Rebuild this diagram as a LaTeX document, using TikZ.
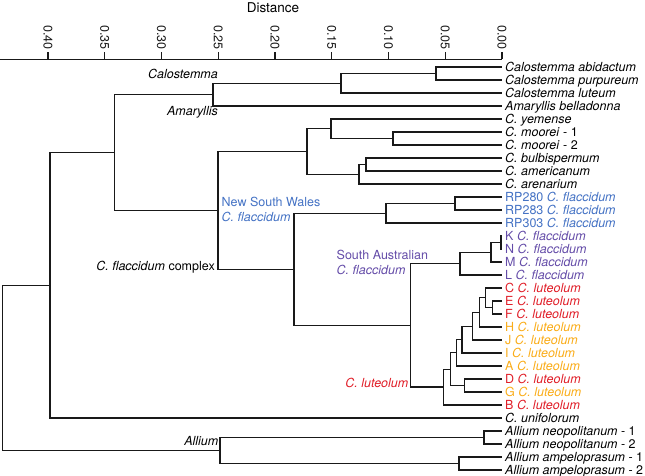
\documentclass[tikz,border=0pt]{standalone}
\usepackage{fontspec}
\setmainfont{TeX Gyre Heros}
\usetikzlibrary{calc}
\definecolor{nswblue}{RGB}{68,114,196}
\definecolor{sapurple}{RGB}{100,76,168}
\definecolor{lutred}{RGB}{224,30,40}
\definecolor{lutorange}{RGB}{250,172,24}
\begin{document}
\begin{tikzpicture}[x=1pt,y=-1pt,
  font=\fontsize{12.5}{14}\selectfont,
  branch/.style={line width=1.2pt, black!90},
  tiplab/.style={anchor=base west, inner sep=0pt},
  grouplab/.style={inner sep=0pt},
  ticklab/.style={anchor=east, rotate=-90, inner sep=2pt}]
\useasboundingbox (0,0) rectangle (645,476);
% axis
\node (dist) at (273,8) {\fontsize{13.5}{15}\selectfont Distance};
\coordinate (ax0) at (0,59.5);
\coordinate (ax1) at (502,59.5);
\draw[branch] (ax0) -- (ax1);
\foreach \k/\lab in {0/0.00,1/0.05,2/0.10,3/0.15,4/0.20,5/0.25,6/0.30,7/0.35,8/0.40}{
  \coordinate (tk\k) at ({502-\k*56.75},59.5);
  \draw[branch] (tk\k) -- ++(0,-7.5) node[ticklab] (tl\k) {\lab};
}
% tips
\foreach \i in {1,...,32}{
  \coordinate (t\i) at (502,{67+13*(\i-1)});
}
\node[tiplab] (l1) at ($(t1)+(3,4.4)$) {\textit{Calostemma abidactum}};
\node[tiplab] (l2) at ($(t2)+(3,4.4)$) {\textit{Calostemma purpureum}};
\node[tiplab] (l3) at ($(t3)+(3,4.4)$) {\textit{Calostemma luteum}};
\node[tiplab] (l4) at ($(t4)+(3,4.4)$) {\textit{Amaryllis belladonna}};
\node[tiplab] (l5) at ($(t5)+(3,4.4)$) {\textit{C. yemense}};
\node[tiplab] (l6) at ($(t6)+(3,4.4)$) {\textit{C. moorei} - 1};
\node[tiplab] (l7) at ($(t7)+(3,4.4)$) {\textit{C. moorei} - 2};
\node[tiplab] (l8) at ($(t8)+(3,4.4)$) {\textit{C. bulbispermum}};
\node[tiplab] (l9) at ($(t9)+(3,4.4)$) {\textit{C. americanum}};
\node[tiplab] (l10) at ($(t10)+(3,4.4)$) {\textit{C. arenarium}};
\node[tiplab,text=nswblue] (l11) at ($(t11)+(3,4.4)$) {RP280 \textit{C. flaccidum}};
\node[tiplab,text=nswblue] (l12) at ($(t12)+(3,4.4)$) {RP283 \textit{C. flaccidum}};
\node[tiplab,text=nswblue] (l13) at ($(t13)+(3,4.4)$) {RP303 \textit{C. flaccidum}};
\node[tiplab,text=sapurple] (l14) at ($(t14)+(3,4.4)$) {K \textit{C. flaccidum}};
\node[tiplab,text=sapurple] (l15) at ($(t15)+(3,4.4)$) {N \textit{C. flaccidum}};
\node[tiplab,text=sapurple] (l16) at ($(t16)+(3,4.4)$) {M \textit{C. flaccidum}};
\node[tiplab,text=sapurple] (l17) at ($(t17)+(3,4.4)$) {L \textit{C. flaccidum}};
\node[tiplab,text=lutred] (l18) at ($(t18)+(3,4.4)$) {C \textit{C. luteolum}};
\node[tiplab,text=lutred] (l19) at ($(t19)+(3,4.4)$) {E \textit{C. luteolum}};
\node[tiplab,text=lutred] (l20) at ($(t20)+(3,4.4)$) {F \textit{C. luteolum}};
\node[tiplab,text=lutorange] (l21) at ($(t21)+(3,4.4)$) {H \textit{C. luteolum}};
\node[tiplab,text=lutorange] (l22) at ($(t22)+(3,4.4)$) {J \textit{C. luteolum}};
\node[tiplab,text=lutorange] (l23) at ($(t23)+(3,4.4)$) {I \textit{C. luteolum}};
\node[tiplab,text=lutorange] (l24) at ($(t24)+(3,4.4)$) {A \textit{C. luteolum}};
\node[tiplab,text=lutred] (l25) at ($(t25)+(3,4.4)$) {D \textit{C. luteolum}};
\node[tiplab,text=lutorange] (l26) at ($(t26)+(3,4.4)$) {G \textit{C. luteolum}};
\node[tiplab,text=lutred] (l27) at ($(t27)+(3,4.4)$) {B \textit{C. luteolum}};
\node[tiplab] (l28) at ($(t28)+(3,4.4)$) {\textit{C. unifolorum}};
\node[tiplab] (l29) at ($(t29)+(3,4.4)$) {\textit{Allium neopolitanum} - 1};
\node[tiplab] (l30) at ($(t30)+(3,4.4)$) {\textit{Allium neopolitanum} - 2};
\node[tiplab] (l31) at ($(t31)+(3,4.4)$) {\textit{Allium ampeloprasum} - 1};
\node[tiplab] (l32) at ($(t32)+(3,4.4)$) {\textit{Allium ampeloprasum} - 2};
% internal nodes
\coordinate (nab) at (436,73.5);
\coordinate (ncal) at (341,83.25);
\coordinate (nam) at (213,94.625);
\coordinate (nmoo) at (393,138.5);
\coordinate (nyem) at (331,128.75);
\coordinate (nbul) at (366,164.5);
\coordinate (nare) at (359,174.25);
\coordinate (ncra) at (307,151.5);
\coordinate (nrp) at (455,203.5);
\coordinate (nrpb) at (386,213.25);
\coordinate (nkn) at (501,242.5);
\coordinate (nknm) at (491,252.25);
\coordinate (nsa) at (460,263.625);
\coordinate (nef) at (492.7,307.5);
\coordinate (ncef) at (485.3,297.75);
\coordinate (nh) at (479.3,312.375);
\coordinate (nj) at (472.7,326.19);
\coordinate (ni) at (462,339.59);
\coordinate (na) at (456.7,352.8);
\coordinate (ndg) at (464.3,385.5);
\coordinate (nadg) at (450.7,369.15);
\coordinate (nlut) at (443.3,387.07);
\coordinate (nsal) at (410.5,325.35);
\coordinate (nfl) at (294,269.3);
\coordinate (ncfc) at (218,210.4);
\coordinate (nbig) at (114.5,152.5);
\coordinate (namc) at (50,285.25);
\coordinate (nneo) at (484,437.5);
\coordinate (namp) at (459,463.5);
\coordinate (nall) at (220,450.5);
\coordinate (root) at (2.7,367.9);
% branches
\draw[branch] (nab) |- (t1) (nab) |- (t2);
\draw[branch] (ncal) |- (nab) (ncal) |- (t3);
\draw[branch] (nam) |- (ncal) (nam) |- (t4);
\draw[branch] (nmoo) |- (t6) (nmoo) |- (t7);
\draw[branch] (nyem) |- (t5) (nyem) |- (nmoo);
\draw[branch] (nbul) |- (t8) (nbul) |- (t9);
\draw[branch] (nare) |- (nbul) (nare) |- (t10);
\draw[branch] (ncra) |- (nyem) (ncra) |- (nare);
\draw[branch] (nrp) |- (t11) (nrp) |- (t12);
\draw[branch] (nrpb) |- (nrp) (nrpb) |- (t13);
\draw[branch] (nkn) |- (t14) (nkn) |- (t15);
\draw[branch] (nknm) |- (nkn) (nknm) |- (t16);
\draw[branch] (nsa) |- (nknm) (nsa) |- (t17);
\draw[branch] (nef) |- (t19) (nef) |- (t20);
\draw[branch] (ncef) |- (t18) (ncef) |- (nef);
\draw[branch] (nh) |- (ncef) (nh) |- (t21);
\draw[branch] (nj) |- (nh) (nj) |- (t22);
\draw[branch] (ni) |- (nj) (ni) |- (t23);
\draw[branch] (na) |- (ni) (na) |- (t24);
\draw[branch] (ndg) |- (t25) (ndg) |- (t26);
\draw[branch] (nadg) |- (na) (nadg) |- (ndg);
\draw[branch] (nlut) |- (nadg) (nlut) |- (t27);
\draw[branch] (nsal) |- (nsa) (nsal) |- (nlut);
\draw[branch] (nfl) |- (nrpb) (nfl) |- (nsal);
\draw[branch] (ncfc) |- (ncra) (ncfc) |- (nfl);
\draw[branch] (nbig) |- (nam) (nbig) |- (ncfc);
\draw[branch] (namc) |- (nbig) (namc) |- (t28);
\draw[branch] (nneo) |- (t29) (nneo) |- (t30);
\draw[branch] (namp) |- (t31) (namp) |- (t32);
\draw[branch] (nall) |- (nneo) (nall) |- (namp);
\draw[branch] (root) |- (namc) (root) |- (nall);
% group labels
\node[grouplab,anchor=base east] (gcal) at (218,78.5) {\textit{Calostemma}};
\node[grouplab,anchor=base east] (gama) at (218,116) {\textit{Amaryllis}};
\node[grouplab,anchor=base west,text=nswblue] (gnsw) at (221.5,206) {New South Wales};
\node[grouplab,anchor=base west,text=nswblue] (gnswb) at (221.5,221) {\textit{C. flaccidum}};
\node[grouplab,anchor=base east] (gcfc) at (215,270) {\textit{C. flaccidum} complex};
\node[grouplab,anchor=base west,text=sapurple] (gsa) at (336.5,259) {South Australian};
\node[grouplab,anchor=base west,text=sapurple] (gsab) at (336.5,274) {\textit{C. flaccidum}};
\node[grouplab,anchor=base east,text=lutred] (glut) at (408.5,387.5) {\textit{C. luteolum}};
\node[grouplab,anchor=base east] (gall) at (218.5,445) {\textit{Allium}};
\end{tikzpicture}
\end{document}
